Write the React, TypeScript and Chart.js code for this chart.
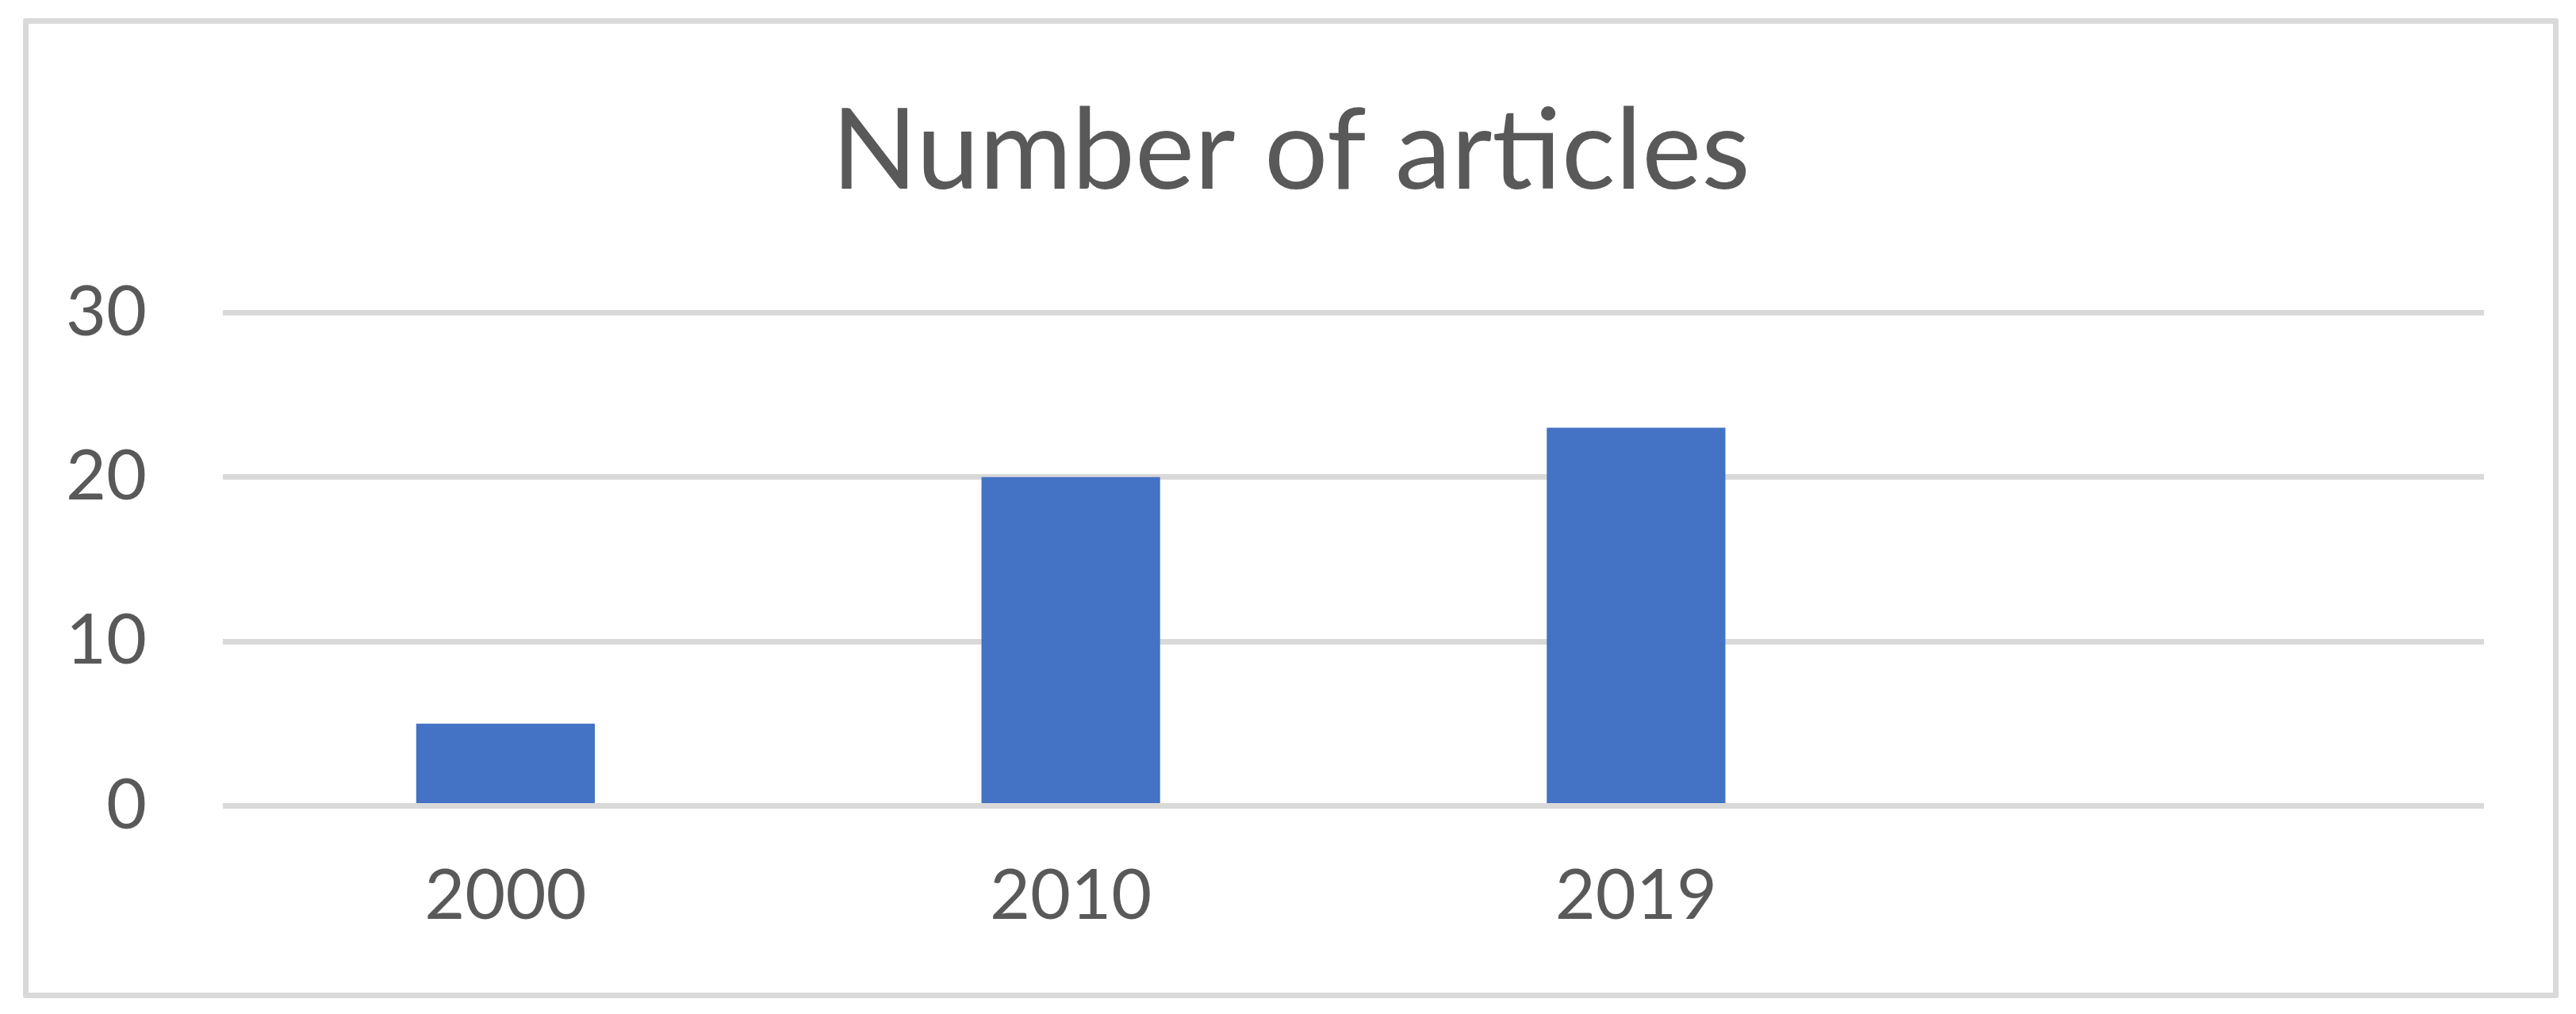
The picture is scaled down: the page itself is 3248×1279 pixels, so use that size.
import React, { useEffect, useRef } from "react";
import { Chart, registerables } from "chart.js";

Chart.register(...registerables);

const categories: string[] = ["2000", "2010", "2019", ""];
const articleCounts: (number | null)[] = [5, 20, 23, null];
const yTicks: number[] = [0, 10, 20, 30];
const titleText = "Number of articles";

const W = 3248;
const H = 1279;
const TEXT = "#595959";
const GRID = "#d9d9d9";
const BAR = "#4472c4";
const FONT = "Lato, 'Open Sans', sans-serif";

export default function App() {
  const ref = useRef<HTMLCanvasElement | null>(null);

  useEffect(() => {
    let chart: Chart | null = null;
    let cancelled = false;
    const make = () => {
      if (cancelled || !ref.current) return;
      chart = new Chart(ref.current, {
        type: "bar",
        data: {
          labels: categories,
          datasets: [
            {
              label: "Number of articles",
              data: articleCounts,
              backgroundColor: BAR,
              borderWidth: 0,
              categoryPercentage: 1,
              barPercentage: 0.316,
            },
          ],
        },
        options: {
          animation: false,
          responsive: false,
          devicePixelRatio: 1,
          layout: { padding: { left: 36, right: 29, top: 30, bottom: 43 } },
          plugins: {
            legend: { display: false },
            tooltip: { enabled: false },
            title: {
              display: true,
              text: titleText,
              color: TEXT,
              font: { family: FONT, size: 142, weight: "normal" },
              padding: { top: 77, bottom: 117 },
            },
          },
          scales: {
            x: {
              grid: { display: false },
              border: { display: false },
              ticks: {
                color: TEXT,
                font: { family: FONT, size: 88 },
                padding: 53,
                maxRotation: 0,
                autoSkip: false,
              },
            },
            y: {
              min: 0,
              max: 30,
              afterFit: (scale: any) => {
                scale.width = 245;
              },
              afterBuildTicks: (scale: any) => {
                scale.ticks = yTicks.map((v) => ({ value: v }));
              },
              grid: { color: GRID, lineWidth: 7, drawTicks: false },
              border: { display: false },
              ticks: {
                color: TEXT,
                font: { family: FONT, size: 88 },
                padding: 96,
              },
            },
            y2: {
              position: "right",
              display: true,
              afterFit: (scale: any) => {
                scale.width = 87;
              },
              grid: { display: false, drawTicks: false },
              border: { display: false },
              ticks: { display: false },
            },
          },
        },
      });
    };
    const fonts: any = (document as any).fonts;
    if (fonts && fonts.load) {
      Promise.all([fonts.load("88px Lato"), fonts.load("142px Lato")])
        .then(make)
        .catch(make);
    } else {
      make();
    }
    return () => {
      cancelled = true;
      if (chart) chart.destroy();
    };
  }, []);

  return (
    <div
      style={{
        position: "absolute",
        left: 0,
        top: 0,
        width: W,
        height: H,
        background: "#ffffff",
        overflow: "hidden",
      }}
    >
      <canvas
        ref={ref}
        width={W}
        height={H}
        style={{ position: "absolute", left: 0, top: 0, width: W, height: H }}
      />
      <div
        style={{
          position: "absolute",
          left: 29,
          top: 23,
          width: 3197,
          height: 1236,
          border: `7px solid ${GRID}`,
          borderRadius: 3,
          boxSizing: "border-box",
          pointerEvents: "none",
        }}
      />
    </div>
  );
}
